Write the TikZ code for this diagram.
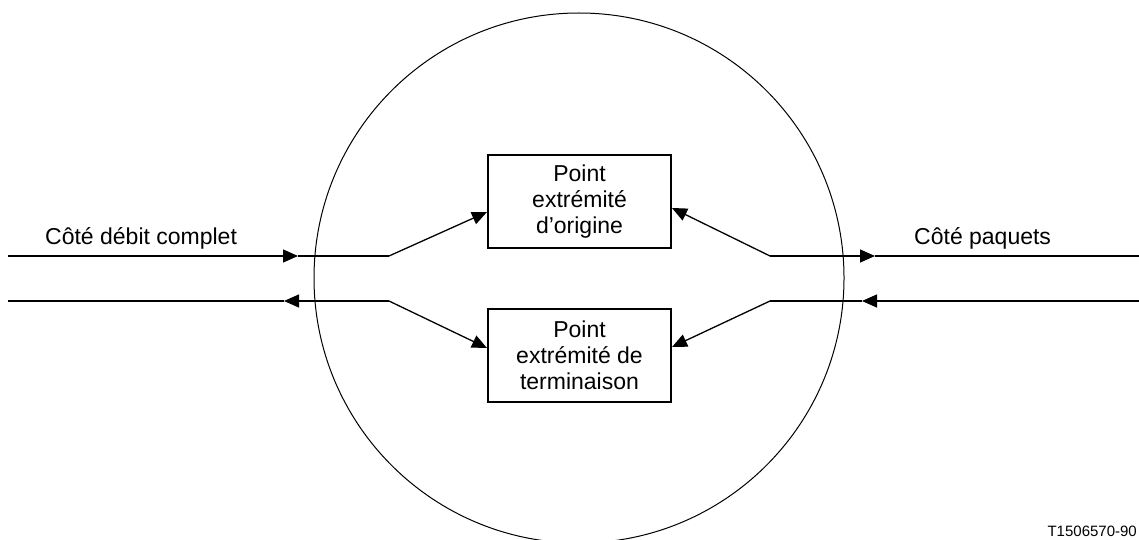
\documentclass[tikz,border=0pt]{standalone}
\usepackage{fontspec}
\setmainfont{Liberation Sans}
\usetikzlibrary{arrows.meta}
\begin{document}
\begin{tikzpicture}[x=1pt,y=-1pt,
  conn/.style={line width=1.3pt,black},
  tip/.style={-{Triangle[length=15pt,width=13pt,fill=black]}},
  epbox/.style={draw,line width=2pt,minimum width=183pt,minimum height=93pt,inner sep=0pt,align=center,font=\fontsize{23}{26}\selectfont},
  lbl/.style={anchor=west,inner sep=0pt,font=\fontsize{23}{26}\selectfont}]
\useasboundingbox (0,0) rectangle (1139,540);
\fill[white] (0,0) rectangle (1139,540);
\draw[line width=1pt] (579,278) circle (265);
\node[epbox] (b1) at (579.5,201.5) {Point\\extrémité\\d'origine};
\node[epbox] (b2) at (579.5,355.5) {Point\\extrémité de\\terminaison};
% upper left
\coordinate (ul0) at (8,256);
\coordinate (ula) at (298,256);
\coordinate (ulk) at (389,256);
\draw[conn,tip] (ul0) -- (ula);
\draw[conn] (ula) -- (ulk);
\draw[conn,tip] (ulk) -- ([yshift=-10.5pt]b1.west);
% lower left
\coordinate (ll0) at (8,301);
\coordinate (lla) at (284,301);
\coordinate (llk) at (389,301);
\draw[conn,tip] (llk) -- (lla);
\draw[conn] (lla) -- (ll0);
\draw[conn,tip] (llk) -- ([yshift=7.5pt]b2.west);
% upper right
\coordinate (ur0) at (1139,256);
\coordinate (ura) at (875,256);
\coordinate (urk) at (770,256);
\draw[conn,tip] (urk) -- (ura);
\draw[conn] (ura) -- (ur0);
\draw[conn,tip] (urk) -- ([yshift=-6.5pt]b1.east);
% lower right
\coordinate (lr0) at (1139,301);
\coordinate (lra) at (862,301);
\coordinate (lrk) at (770,301);
\draw[conn,tip] (lr0) -- (lra);
\draw[conn] (lra) -- (lrk);
\draw[conn,tip] (lrk) -- ([yshift=8.5pt]b2.east);
% labels
\node[lbl] (l1) at (45,238) {Côté débit complet};
\node[lbl] (l2) at (914,238) {Côté paquets};
\node[anchor=east,inner sep=0pt,font=\fontsize{15}{18}\selectfont] (l3) at (1137,531) {T1506570-90};
\end{tikzpicture}
\end{document}
